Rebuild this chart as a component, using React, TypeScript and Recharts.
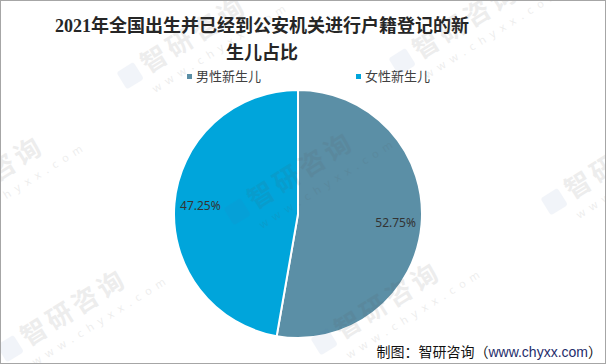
import { PieChart, Pie, Cell } from 'recharts';

const categories = ['男性新生儿', '女性新生儿'];
const shares = [52.75, 47.25];
const colors = ['#5b8fa6', '#00a5db'];

const titleLines = ['2021年全国出生并已经到公安机关进行户籍登记的新', '生儿占比'];

// watermark anchor points (logo position), the text runs up-right from there
const marks: Array<[number, number]> = [
  [-70, 217],
  [240, 213],
  [557, 203],
  [133, 77],
  [405, 63],
  [13, 350],
  [327, 343],
];

const data = categories.map((name, i) => ({ name, value: shares[i] }));

const RAD = Math.PI / 180;

const renderLabel = (props: any) => {
  const { cx, cy, midAngle, outerRadius, value } = props;
  const r = outerRadius * 0.79;
  const x = cx + r * Math.cos(-midAngle * RAD);
  const y = cy + r * Math.sin(-midAngle * RAD);
  return (
    <text
      x={x}
      y={y}
      textAnchor="middle"
      dominantBaseline="central"
      fontSize={12}
      fill="#333"
      fontFamily="'Noto Sans', sans-serif"
    >
      {`${Number(value).toFixed(2)}%`}
    </text>
  );
};

function TopLegend() {
  const lefts = [186, 355];
  return (
    <div style={{ position: 'absolute', left: 0, top: 66, height: 18, width: 606 }}>
      {data.map((d, i) => (
        <div
          key={d.name}
          style={{
            position: 'absolute',
            left: lefts[i],
            top: 0,
            display: 'flex',
            alignItems: 'center',
            gap: 4,
            fontSize: 13,
            color: '#404040',
            fontFamily: "'Noto Sans CJK SC', sans-serif",
            lineHeight: '18px',
          }}
        >
          <span style={{ display: 'inline-block', width: 5, height: 5, background: colors[i] }} />
          <span>{d.name}</span>
        </div>
      ))}
    </div>
  );
}

function Watermarks() {
  return (
    <svg
      width={606}
      height={364}
      style={{ position: 'absolute', left: 0, top: 0, pointerEvents: 'none' }}
    >
      {marks.map(([x, y], i) => (
        <g key={i} transform={`translate(${x},${y}) rotate(-32)`} opacity={0.1}>
          <rect x={-12} y={-14} width={20} height={20} rx={3} fill="#4a6fb0" opacity={0.7} />
          <text
            x={14}
            y={4}
            fontSize={26}
            fontWeight="bold"
            letterSpacing={4}
            fill="#555"
            fontFamily="'Noto Sans CJK SC', sans-serif"
          >
            智研咨询
          </text>
          <text
            x={10}
            y={24}
            fontSize={11}
            letterSpacing={6}
            fill="#555"
            fontFamily="'Noto Sans', sans-serif"
          >
            www.chyxx.com
          </text>
        </g>
      ))}
    </svg>
  );
}

export default function App() {
  return (
    <div
      style={{
        position: 'absolute',
        left: 0,
        top: 0,
        width: 606,
        height: 364,
        boxSizing: 'border-box',
        border: '1px solid #a6a6a6',
        background: '#fff',
        overflow: 'hidden',
      }}
    >
      <div style={{ position: 'absolute', left: -1, top: -1 }}>
        <PieChart width={606} height={364} margin={{ top: 0, right: 0, bottom: 0, left: 0 }}>
          <Pie
            data={data}
            dataKey="value"
            nameKey="name"
            cx={298}
            cy={214}
            outerRadius={124}
            startAngle={90}
            endAngle={-270}
            stroke="#fff"
            strokeWidth={2}
            label={renderLabel}
            labelLine={false}
            isAnimationActive={false}
          >
            {data.map((d, i) => (
              <Cell key={d.name} fill={colors[i]} />
            ))}
          </Pie>
        </PieChart>
      </div>
      <svg width={606} height={70} style={{ position: 'absolute', left: -1, top: -1 }}>
        {titleLines.map((t, i) => (
          <text
            key={i}
            x={262}
            y={32 + i * 27}
            textAnchor="middle"
            fontSize={18}
            fontWeight="bold"
            fill="#262626"
            fontFamily="'Liberation Serif', 'Noto Sans CJK SC', serif"
          >
            {t}
          </text>
        ))}
      </svg>
      <TopLegend />
      <Watermarks />
      <div
        style={{
          position: 'absolute',
          right: 3,
          top: 340,
          fontSize: 14,
          color: '#111',
          fontFamily: "'Noto Sans CJK SC', sans-serif",
          lineHeight: '20px',
          whiteSpace: 'nowrap',
        }}
      >
        制图：智研咨询（<span style={{ color: '#1f2d6b', fontFamily: "'Liberation Sans', 'Noto Sans CJK SC', sans-serif" }}>www.chyxx.com</span>）
      </div>
    </div>
  );
}
